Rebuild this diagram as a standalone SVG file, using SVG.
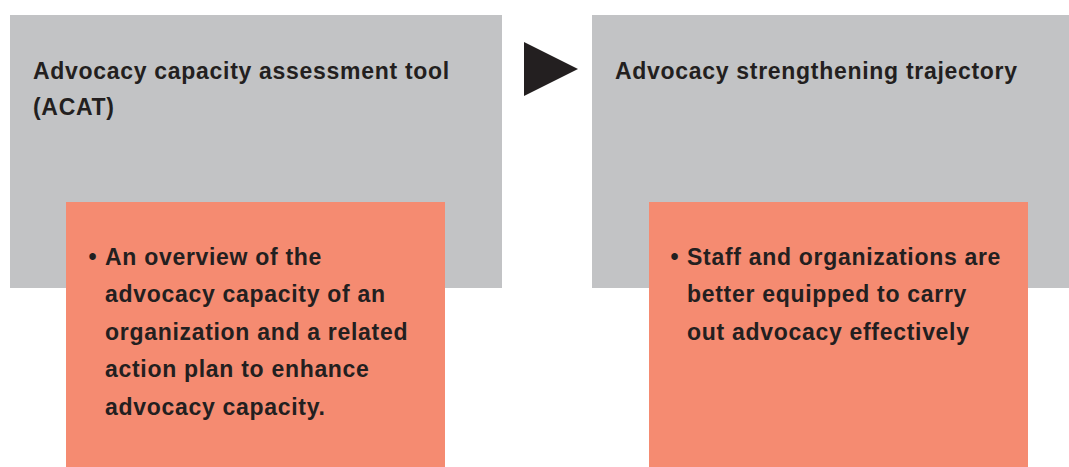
<svg xmlns="http://www.w3.org/2000/svg" width="1069" height="467" viewBox="0 0 1069 467">
<style>
.gray{fill:#C2C3C5}
.salmon{fill:#F58B71}
.t{font-family:"Liberation Sans",Arial,sans-serif;font-weight:bold;font-size:23px;letter-spacing:0.7px;fill:#231F20}
</style>
<rect width="1069" height="467" fill="#FFFFFF"/>
<g id="node-acat">
<rect class="gray" x="10" y="15" width="492" height="273"/>
<text class="t" x="33" y="79">Advocacy capacity assessment tool</text>
<text class="t" x="33" y="114.5">(ACAT)</text>
</g>
<g id="node-trajectory">
<rect class="gray" x="592" y="15" width="477" height="273"/>
<text class="t" x="615" y="79">Advocacy strengthening trajectory</text>
</g>
<g id="node-acat-output">
<rect class="salmon" x="66" y="202" width="379" height="265"/>
<text class="t" x="88.5" y="264.5">•</text>
<text class="t" x="105" y="264.5">An overview of the</text>
<text class="t" x="105" y="302">advocacy capacity of an</text>
<text class="t" x="105" y="339.5">organization and a related</text>
<text class="t" x="105" y="377">action plan to enhance</text>
<text class="t" x="105" y="414.5">advocacy capacity.</text>
</g>
<g id="node-trajectory-output">
<rect class="salmon" x="649" y="202" width="379" height="265"/>
<text class="t" x="670.5" y="264.5">•</text>
<text class="t" x="687" y="264.5">Staff and organizations are</text>
<text class="t" x="687" y="302">better equipped to carry</text>
<text class="t" x="687" y="339.5">out advocacy effectively</text>
</g>
<g id="connectors">
<polygon points="524,42 578,69 524,96" fill="#231F20"/>
</g>
</svg>
